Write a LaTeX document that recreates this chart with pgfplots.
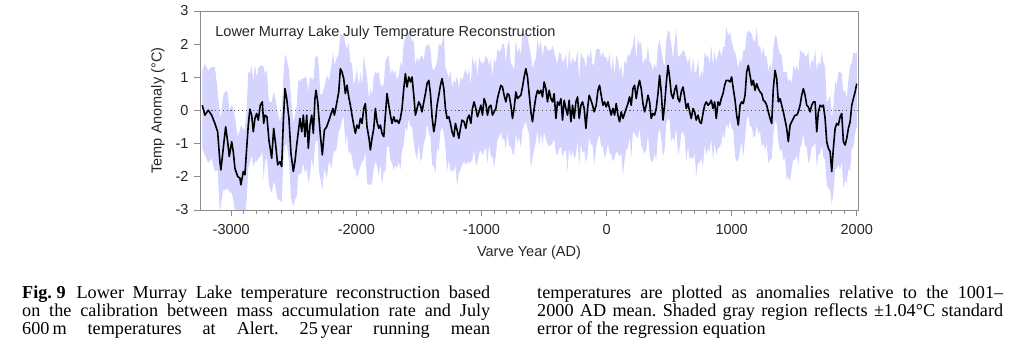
\documentclass[border=0pt]{standalone}
\usepackage{fontspec}
\setmainfont{Liberation Serif}
\newfontfamily\arial{Liberation Sans}
\usepackage{pgfplots}
\pgfplotsset{compat=1.18}
\usepackage{pgfplotstable}
\usepgfplotslibrary{fillbetween}
\definecolor{band}{rgb}{0.83,0.83,1.0}
\frenchspacing

\pgfplotstableread{
yr m u d
-3232 0.16 1.05 1.30
-3211 -0.14 1.55 1.20
-3184 0.01 1.20 1.60
-3157 -0.14 1.45 1.30
-3131 -0.39 1.70 1.45
-3109 -0.64 1.25 1.15
-3091 -1.54 1.40 1.55
-3083 -1.79 1.60 1.05
-3064 -1.14 1.60 1.25
-3045 -0.49 1.08 1.90
-3029 -0.94 1.50 1.40
-3016 -1.39 1.40 1.05
-2997 -0.94 1.10 1.55
-2984 -1.24 1.30 1.45
-2971 -1.74 1.55 1.30
-2949 -1.99 1.20 1.20
-2931 -2.04 1.45 1.10
-2923 -2.24 1.80 1.05
-2904 -1.84 1.25 1.15
-2891 -1.94 1.40 1.35
-2877 -1.14 1.15 1.55
-2864 -0.44 1.60 1.30
-2851 0.04 1.08 1.60
-2837 -0.14 1.50 1.20
-2824 -0.64 1.50 1.05
-2811 -0.24 1.65 1.30
-2797 -0.09 1.10 1.45
-2784 -0.29 1.55 1.15
-2768 0.16 1.20 1.55
-2752 0.26 1.08 1.50
-2741 -0.39 1.70 1.70
-2731 -0.14 1.25 1.40
-2715 -0.19 1.40 1.25
-2699 -0.89 1.15 1.35
-2677 -1.44 1.70 1.05
-2661 -0.54 1.10 1.60
-2645 -1.04 1.35 1.30
-2629 -1.64 1.60 1.05
-2611 -1.54 1.20 1.15
-2597 -1.69 1.65 1.10
-2584 -0.34 1.30 1.25
-2571 0.66 1.05 1.70
-2557 0.36 1.20 1.40
-2539 -0.24 1.45 1.25
-2523 -1.29 1.70 1.35
-2504 -1.84 1.45 1.05
-2491 -1.54 1.40 1.15
-2477 -1.04 1.15 1.55
-2464 -0.64 1.60 1.25
-2451 -0.24 1.10 1.70
-2437 -0.64 1.60 1.20
-2424 -0.14 1.10 1.45
-2411 -0.79 1.80 1.10
-2397 -0.14 1.10 1.60
-2384 -1.14 1.70 1.05
-2371 -0.44 1.45 1.55
-2357 -0.14 1.10 1.25
-2344 -0.69 1.60 1.10
-2331 0.36 1.15 1.40
-2323 0.61 1.05 1.50
-2309 0.26 1.35 1.20
-2299 -0.24 1.50 1.60
-2288 -0.74 1.20 1.30
-2272 -1.34 1.85 1.05
-2256 -0.59 1.30 1.15
-2237 -0.49 1.55 1.55
-2219 -0.29 1.20 1.25
-2197 -0.04 1.45 1.70
-2187 0.06 1.70 1.40
-2176 -0.14 1.50 1.10
-2160 0.16 1.40 1.35
-2141 0.56 1.15 1.20
-2128 1.26 1.07 1.80
-2115 1.16 1.10 1.45
-2101 0.96 1.35 1.15
-2088 0.51 1.50 1.55
-2075 0.76 1.10 1.45
-2061 0.41 1.65 1.70
-2048 0.16 1.30 1.40
-2035 -0.14 1.55 1.25
-2021 -0.44 1.20 1.35
-2008 -0.69 1.65 1.05
-1995 -0.44 1.70 1.60
-1981 -0.54 1.25 1.30
-1968 -0.24 1.40 1.45
-1955 -0.39 1.15 1.15
-1941 0.06 1.60 1.55
-1928 0.21 1.08 1.45
-1915 -0.49 1.50 1.70
-1899 -0.84 1.20 1.40
-1888 -1.19 1.85 1.05
-1875 -0.84 1.30 1.35
-1861 -0.54 1.55 1.20
-1848 0.06 1.10 1.60
-1835 -0.34 1.45 1.30
-1821 -0.54 1.70 1.45
-1808 -0.44 1.25 1.15
-1795 -0.69 1.40 1.55
-1781 -0.79 1.60 1.05
-1768 -0.14 1.60 1.70
-1755 0.51 1.08 1.60
-1741 0.16 1.50 1.25
-1728 -0.14 1.20 1.35
-1715 -0.39 1.65 1.20
-1701 -0.19 1.30 1.60
-1688 -0.34 1.55 1.30
-1675 -0.29 1.20 1.45
-1661 -0.39 1.45 1.15
-1648 -0.24 1.70 1.55
-1635 0.06 1.25 1.25
-1621 0.66 1.40 1.70
-1608 1.11 1.07 1.60
-1595 0.71 1.60 1.35
-1581 1.01 1.35 1.25
-1568 0.86 1.50 1.35
-1555 1.01 1.08 1.50
-1541 0.46 1.65 1.45
-1528 -0.14 1.50 1.15
-1515 0.06 1.55 1.55
-1501 0.26 1.20 1.25
-1488 0.16 1.45 1.70
-1475 -0.04 1.70 1.40
-1461 0.26 1.25 1.25
-1448 0.51 1.40 1.35
-1435 0.81 1.15 1.20
-1421 0.91 1.08 1.60
-1408 0.51 1.35 1.30
-1395 -0.19 1.50 1.45
-1381 -0.64 1.85 1.05
-1368 -0.34 1.65 1.55
-1355 0.16 1.30 1.25
-1341 0.46 1.55 1.70
-1328 0.76 1.20 1.40
-1315 0.96 1.07 1.45
-1301 0.66 1.70 1.35
-1288 0.06 1.25 1.20
-1275 -0.24 1.40 1.60
-1261 -0.19 1.15 1.30
-1248 -0.39 1.60 1.45
-1235 -0.64 1.35 1.15
-1221 -0.79 1.70 1.05
-1208 -0.39 1.20 1.25
-1195 -0.59 1.65 1.70
-1181 -0.84 1.50 1.05
-1168 -0.54 1.55 1.25
-1155 -0.29 1.20 1.35
-1139 -0.34 1.45 1.20
-1125 -0.54 1.80 1.10
-1112 -0.24 1.25 1.30
-1099 -0.14 1.40 1.45
-1085 -0.39 1.15 1.15
-1072 0.06 1.60 1.55
-1059 0.26 1.08 1.45
-1045 0.06 1.50 1.70
-1032 -0.19 1.20 1.40
-1019 -0.04 1.65 1.25
-1005 0.16 1.30 1.35
-992 -0.14 1.55 1.20
-979 0.36 1.10 1.60
-965 0.21 1.45 1.30
-952 -0.14 1.70 1.45
-939 0.11 1.25 1.15
-925 0.16 1.40 1.55
-912 -0.14 1.15 1.25
-899 -0.04 1.60 1.70
-885 0.06 1.35 1.40
-872 0.36 1.50 1.25
-859 0.56 1.20 1.35
-845 0.76 1.08 1.40
-832 0.71 1.30 1.60
-819 0.46 1.55 1.30
-805 0.26 1.20 1.45
-792 0.51 1.45 1.15
-779 0.46 1.70 1.55
-765 0.16 1.25 1.25
-752 -0.24 1.60 1.05
-739 0.06 1.15 1.40
-725 0.56 1.60 1.25
-712 0.36 1.35 1.35
-699 0.41 1.50 1.20
-685 0.46 1.20 1.60
-672 0.71 1.65 1.30
-659 1.01 1.30 1.45
-645 1.26 1.05 1.60
-632 1.01 1.20 1.55
-619 0.51 1.45 1.25
-605 -0.04 1.70 1.70
-592 -0.34 1.60 1.10
-579 0.06 1.40 1.25
-565 0.41 1.15 1.35
-552 0.61 1.60 1.20
-539 0.51 1.35 1.60
-525 0.61 1.50 1.30
-512 0.41 1.20 1.45
-499 0.86 1.08 1.50
-485 0.66 1.30 1.55
-472 0.26 1.55 1.25
-459 0.61 1.20 1.70
-445 0.36 1.45 1.40
-432 0.26 1.70 1.25
-419 0.51 1.25 1.35
-405 -0.24 1.80 1.05
-392 0.26 1.15 1.60
-379 0.16 1.60 1.30
-365 0.36 1.35 1.45
-352 -0.29 1.75 1.10
-339 0.31 1.20 1.55
-325 0.06 1.65 1.25
-312 -0.14 1.30 1.70
-299 0.31 1.55 1.40
-285 -0.34 1.70 1.10
-272 0.16 1.45 1.35
-259 -0.24 1.70 1.20
-245 0.26 1.25 1.60
-232 0.41 1.40 1.30
-219 -0.24 1.15 1.45
-205 0.16 1.60 1.15
-192 0.26 1.35 1.55
-179 0.06 1.50 1.25
-165 -0.54 1.80 1.05
-152 0.06 1.65 1.40
-139 0.46 1.10 1.25
-125 0.31 1.55 1.35
-112 0.16 1.20 1.20
-99 -0.04 1.45 1.60
-83 0.16 1.70 1.30
-69 0.61 1.25 1.45
-56 0.76 1.08 1.50
-43 0.46 1.15 1.55
-29 0.16 1.60 1.25
-16 0.26 1.35 1.70
-3 0.11 1.50 1.40
11 0.26 1.20 1.25
24 0.06 1.65 1.35
37 -0.14 1.30 1.20
51 0.06 1.55 1.60
64 -0.14 1.20 1.30
77 0.21 1.45 1.45
91 -0.14 1.70 1.15
104 -0.34 1.50 1.05
117 -0.04 1.40 1.25
131 -0.24 1.15 1.70
144 -0.09 1.60 1.40
157 0.06 1.35 1.25
171 0.21 1.50 1.35
184 0.41 1.20 1.20
197 0.16 1.65 1.60
211 0.66 1.30 1.30
224 0.76 1.55 1.45
237 0.36 1.20 1.15
251 0.71 1.45 1.55
264 0.91 1.08 1.45
277 0.66 1.40 1.70
291 0.21 1.15 1.40
304 -0.04 1.60 1.25
317 0.16 1.35 1.35
331 0.46 1.50 1.20
344 0.26 1.20 1.60
357 -0.24 1.65 1.30
371 -0.09 1.30 1.45
384 -0.14 1.55 1.15
397 0.06 1.20 1.55
411 0.51 1.45 1.25
424 1.06 1.07 1.60
437 0.56 1.25 1.40
451 -0.29 1.80 1.10
464 0.16 1.15 1.35
477 0.81 1.30 1.20
491 1.36 1.06 1.60
504 1.01 1.35 1.30
517 0.51 1.50 1.45
531 0.36 1.20 1.15
544 0.61 1.45 1.55
557 0.76 1.70 1.25
571 0.36 1.25 1.70
584 0.26 1.40 1.40
597 0.56 1.15 1.25
611 0.71 1.10 1.35
624 0.41 1.35 1.20
637 0.06 1.50 1.60
651 0.21 1.20 1.30
664 -0.04 1.65 1.45
677 -0.24 1.30 1.15
691 0.06 1.55 1.55
704 -0.04 1.20 1.25
717 -0.29 1.45 1.70
731 -0.14 1.70 1.40
744 -0.34 1.25 1.25
757 -0.39 1.60 1.05
771 -0.09 1.15 1.60
784 0.16 1.60 1.20
797 0.26 1.35 1.60
811 0.16 1.50 1.30
824 0.21 1.20 1.45
837 0.31 1.65 1.15
851 0.06 1.30 1.55
864 0.26 1.55 1.25
877 -0.24 1.70 1.10
891 0.26 1.45 1.40
904 0.16 1.70 1.25
917 0.36 1.25 1.35
931 0.51 1.40 1.20
944 0.76 1.15 1.60
957 0.91 1.60 1.30
973 0.91 1.35 1.45
987 0.86 1.50 1.15
1000 1.01 1.08 1.55
1013 0.66 1.20 1.25
1027 0.31 1.45 1.70
1040 -0.14 1.70 1.40
1053 -0.44 1.70 1.05
1067 0.16 1.40 1.35
1080 0.26 1.15 1.20
1093 0.21 1.60 1.60
1107 0.46 1.35 1.30
1120 1.16 1.15 1.45
1133 1.36 1.06 1.50
1147 1.06 1.30 1.55
1160 0.76 1.55 1.25
1173 0.91 1.20 1.70
1187 0.61 1.45 1.40
1200 0.81 1.70 1.25
1213 0.66 1.25 1.35
1227 0.56 1.40 1.20
1240 0.51 1.15 1.60
1253 0.31 1.60 1.30
1267 0.26 1.35 1.45
1280 0.16 1.50 1.15
1293 -0.04 1.20 1.55
1307 -0.24 1.65 1.25
1320 -0.39 1.60 1.05
1333 0.66 1.20 1.40
1347 1.21 1.06 1.50
1360 0.96 1.25 1.35
1373 0.26 1.60 1.20
1387 0.36 1.35 1.60
1400 0.16 1.50 1.30
1413 -0.04 1.20 1.45
1427 -0.29 1.45 1.15
1440 -0.54 1.70 1.55
1453 -0.94 1.80 1.05
1467 -0.44 1.40 1.70
1480 -0.34 1.15 1.40
1493 -0.24 1.60 1.25
1507 -0.14 1.35 1.35
1520 -0.14 1.50 1.20
1533 -0.04 1.20 1.60
1547 0.16 1.65 1.30
1560 0.46 1.30 1.45
1573 0.66 1.08 1.35
1587 0.46 1.20 1.55
1600 0.16 1.45 1.25
1613 0.11 1.70 1.70
1627 -0.04 1.25 1.40
1640 0.16 1.40 1.25
1653 0.26 1.15 1.35
1667 0.26 1.60 1.20
1680 -0.64 1.85 1.05
1693 -0.04 1.50 1.30
1707 0.16 1.20 1.45
1720 0.11 1.65 1.15
1733 0.16 1.30 1.55
1747 -0.24 1.55 1.25
1760 -0.94 1.20 1.30
1773 -1.14 1.45 1.20
1787 -1.24 1.70 1.15
1800 -1.84 1.60 1.00
1813 -1.14 1.25 1.35
1827 -0.54 1.40 1.25
1840 -0.39 1.15 1.35
1853 -0.44 1.60 1.20
1867 -0.19 1.35 1.60
1880 -0.09 1.20 1.45
1893 -0.94 1.50 1.40
1907 -1.04 1.65 1.05
1920 -0.84 1.20 1.35
1933 -0.54 1.45 1.20
1947 -0.34 1.70 1.50
1960 0.16 1.25 1.30
1973 0.36 1.40 1.45
1987 0.56 1.15 1.25
2000 0.81 0.95 1.30
}\recon

\begin{document}
\begin{tikzpicture}
\path (0pt,0pt) rectangle (1024pt,350pt);
\begin{axis}[
  at={(200pt,140pt)}, anchor=south west,
  scale only axis, width=658pt, height=199pt,
  xmin=-3250, xmax=2010, ymin=-3, ymax=3,
  axis line style={black!45, line width=0.9pt},
  xtick={-3000,-2000,-1000,0,1000,2000},
  xticklabels={-3000,-2000,-1000,0,1000,2000},
  minor x tick num=9,
  ytick={-3,-2,-1,0,1,2,3},
  yticklabels={-3,-2,-1,0,1,2,3},
  tick align=outside,
  xtick pos=bottom, ytick pos=left,
  major tick length=6pt, minor tick length=4pt,
  major tick style={black!45, line width=0.9pt},
  minor tick style={black!45, line width=0.9pt},
  ticklabel style={font=\arial\fontsize{14.5}{17}\selectfont, text=black!85},
  xticklabel style={yshift=-5pt},
  yticklabel style={xshift=-2pt},
  xlabel={Varve Year (AD)},
  ylabel={Temp Anomaly (°C)},
  xlabel style={font=\arial\fontsize{14.5}{17}\selectfont, text=black!85, yshift=-4pt},
  ylabel style={font=\arial\fontsize{14.5}{17}\selectfont, text=black!85, yshift=4pt},
]
\addplot[name path=hi, draw=none, forget plot] table[x=yr, y expr=\thisrow{m}+\thisrow{u}] {\recon};
\addplot[name path=lo, draw=none, forget plot] table[x=yr, y expr=\thisrow{m}-\thisrow{d}] {\recon};
\addplot[band, forget plot] fill between[of=hi and lo];
\addplot[black!65, line width=1pt, dash pattern=on 1.2pt off 2.6pt] coordinates {(-3250,0) (2010,0)};
\addplot[black, line width=1.6pt, line join=round] table[x=yr, y=m] {\recon};
\node[anchor=base west, font=\arial\fontsize{14.5}{17}\selectfont, text=black!85] at (rel axis cs:0.018,0.872) {Lower Murray Lake July Temperature Reconstruction};
\end{axis}
\begin{scope}[every node/.style={anchor=base west, inner sep=0pt, font=\fontsize{18.2}{18.3}\selectfont}]
\node at (22pt,51pt) {\makebox[468pt][s]{\textbf{Fig.\hspace{0.25em}9}\hspace{0.6em}Lower Murray Lake temperature reconstruction based}};
\node at (22pt,33pt) {\makebox[468pt][s]{on the calibration between mass accumulation rate and July}};
\node at (22pt,15pt) {\makebox[468pt][s]{600\,m temperatures at Alert. 25\,year running mean}};
\node at (537pt,51pt) {\makebox[466pt][s]{temperatures are plotted as anomalies relative to the 1001–}};
\node at (537pt,33pt) {\makebox[466pt][s]{2000 AD mean. Shaded gray region reflects ±1.04°C standard}};
\node at (537pt,15pt) {error of the regression equation};
\end{scope}
\end{tikzpicture}
\end{document}
